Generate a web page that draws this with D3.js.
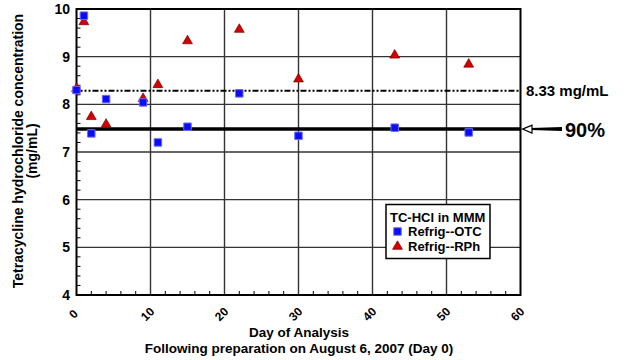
<!DOCTYPE html>
<html><head><meta charset="utf-8">
<script src="https://cdn.jsdelivr.net/npm/d3@7"></script>
<style>body{margin:0;background:#fff}svg{display:block;font-family:"Liberation Sans",Arial,sans-serif;font-weight:bold}</style>
</head><body><svg id="c" width="628" height="360"></svg>
<script>
const daysOTC = [0,1,2,4,9,11,15,22,30,43,53];
const valsOTC = [8.30,9.86,7.39,8.11,8.04,7.20,7.53,8.23,7.34,7.51,7.41];
const daysRPh = [0,1,2,4,9,11,15,22,30,43,53];
const valsRPh = [8.33,9.73,7.74,7.58,8.12,8.41,9.33,9.57,8.53,9.03,8.84];
const xTicks = [0,10,20,30,40,50,60];
const yTicks = [4,5,6,7,8,9,10];
const refTarget = 8.285;   // drawn position of the "8.33 mg/mL" line
const ref90 = 7.48;        // 90% line
const seriesNames = ["Refrig--OTC","Refrig--RPh"];
const legendTitle = "TC-HCl in MMM";

const svg = d3.select("#c");
const L=76.5,R=520.5,T=9,B=295;
const x = d3.scaleLinear().domain([0,60]).range([L,R]);
const y = d3.scaleLinear().domain([4,10]).range([B,T]);

// gridlines
const g = svg.append("g");
g.selectAll(".vg").data(xTicks.slice(1,-1)).join("line")
  .attr("x1",d=>x(d)).attr("x2",d=>x(d)).attr("y1",T).attr("y2",B)
  .attr("stroke","#333").attr("stroke-width",1.4);
g.selectAll(".hg").data(yTicks.slice(1,-1)).join("line")
  .attr("x1",L).attr("x2",R).attr("y1",d=>y(d)).attr("y2",d=>y(d))
  .attr("stroke","#333").attr("stroke-width",1.4);

// minor ticks
const yMinor = d3.range(4,10.001,0.2).filter(v=>Math.abs(v-Math.round(v))>0.01);
g.selectAll(".ym").data(yMinor).join("line")
  .attr("x1",L).attr("x2",L+4).attr("y1",d=>y(d)).attr("y2",d=>y(d))
  .attr("stroke","#000").attr("stroke-width",1);
const xMinor = d3.range(2,60,2).filter(v=>v%10!==0);
g.selectAll(".xm").data(xMinor).join("line")
  .attr("x1",d=>x(d)).attr("x2",d=>x(d)).attr("y1",B).attr("y2",B-4)
  .attr("stroke","#000").attr("stroke-width",1);

// frame
svg.append("rect").attr("x",L).attr("y",T).attr("width",R-L).attr("height",B-T)
  .attr("fill","none").attr("stroke","#000").attr("stroke-width",2);

// reference lines
svg.append("line").attr("x1",L).attr("x2",R).attr("y1",y(refTarget)).attr("y2",y(refTarget))
  .attr("stroke","#000").attr("stroke-width",2).attr("stroke-dasharray","6,2,2,2,2,2");
svg.append("line").attr("x1",L).attr("x2",R).attr("y1",y(ref90)).attr("y2",y(ref90))
  .attr("stroke","#000").attr("stroke-width",3.5);

// axis tick labels
svg.selectAll(".yl").data(yTicks).join("text")
  .attr("x",70).attr("y",d=>y(d)).attr("dy","0.35em").attr("text-anchor","end")
  .attr("font-size",14).text(d=>d);
svg.selectAll(".xl").data(xTicks).join("text")
  .attr("transform",d=>`translate(${x(d)-3},${B+19}) rotate(-45)`)
  .attr("text-anchor","middle").attr("dy","0.35em").attr("font-size",12).text(d=>d);

// axis titles
svg.append("text").attr("x",299).attr("y",337).attr("text-anchor","middle").attr("font-size",13.5).text("Day of Analysis");
svg.append("text").attr("x",299).attr("y",352.5).attr("text-anchor","middle").attr("font-size",13.5).text("Following preparation on August 6, 2007 (Day 0)");
svg.append("text").attr("transform","translate(23,151) rotate(-90)").attr("text-anchor","middle").attr("font-size",14).text("Tetracycline hydrochloride concentration");
svg.append("text").attr("transform","translate(37,151) rotate(-90)").attr("text-anchor","middle").attr("font-size",14).text("(mg/mL)");

// markers
const tri = d3.symbol().type(d3.symbolTriangle).size(42);
const sq = d3.symbol().type(d3.symbolSquare).size(56);
const rph = daysRPh.map((d,i)=>({d,v:valsRPh[i]}));
const otc = daysOTC.map((d,i)=>({d,v:valsOTC[i]}));
svg.selectAll(".tr").data(rph).join("path").attr("d",tri)
  .attr("transform",p=>`translate(${x(p.d)},${y(p.v)})`)
  .attr("fill","#d40000").attr("stroke","#7a0000").attr("stroke-width",0.7);
svg.selectAll(".sq").data(otc).join("path").attr("d",sq)
  .attr("transform",p=>`translate(${x(p.d)},${y(p.v)})`)
  .attr("fill","#0c0cf0").attr("stroke","#6a6aff").attr("stroke-width",1);

// right-side annotations
svg.append("text").attr("x",526).attr("y",y(refTarget)+5.5).attr("font-size",15).text("8.33 mg/mL");
svg.append("text").attr("x",565).attr("y",y(ref90)+7.5).attr("font-size",20).text("90%");
const ay = y(ref90);
svg.append("path").attr("d",`M531,${ay-1} L562,${ay-2} L562,${ay+2} L531,${ay+1} Z`).attr("fill","#000");
svg.append("path").attr("d",`M522.5,${ay} L532,${ay-4} L532,${ay+4} Z`).attr("fill","#fff").attr("stroke","#000").attr("stroke-width",1.2);

// legend
const lg = svg.append("g");
lg.append("rect").attr("x",386).attr("y",204.5).attr("width",104).attr("height",54)
  .attr("fill","#fff").attr("stroke","#000").attr("stroke-width",1.5);
lg.append("text").attr("x",390).attr("y",222).attr("font-size",13).text(legendTitle);
lg.append("path").attr("d",sq).attr("transform","translate(397.5,231.5)").attr("fill","#0c0cf0").attr("stroke","#6a6aff").attr("stroke-width",1);
lg.append("path").attr("d",tri).attr("transform","translate(397.5,246.5)").attr("fill","#d40000").attr("stroke","#7a0000").attr("stroke-width",0.7);
lg.append("text").attr("x",408).attr("y",236).attr("font-size",13).text(seriesNames[0]);
lg.append("text").attr("x",408).attr("y",251).attr("font-size",13).text(seriesNames[1]);
</script></body></html>
